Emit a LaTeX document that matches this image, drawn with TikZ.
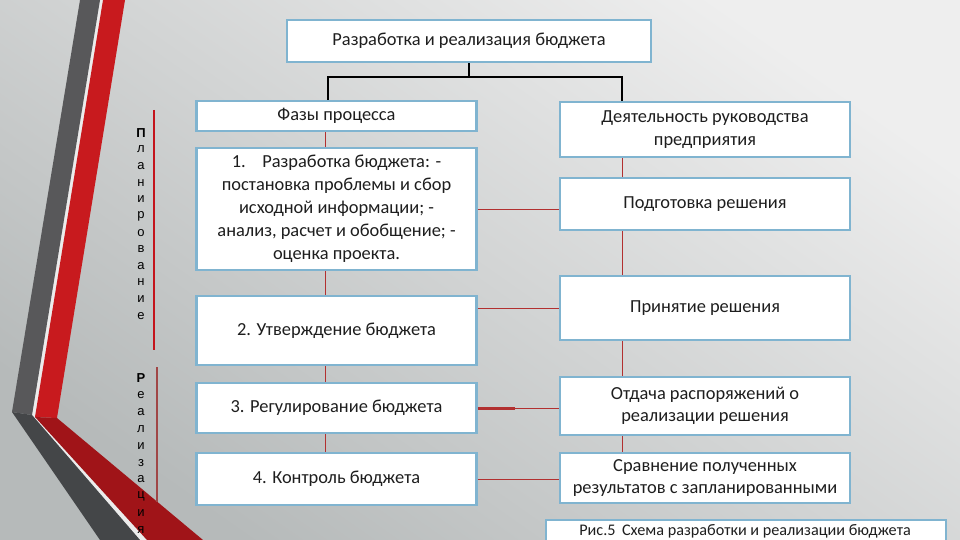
\documentclass[tikz,border=0pt]{standalone}
\usepackage{fontspec}
\setmainfont{Carlito}
\newfontfamily\sidefont{Liberation Sans}
\definecolor{bgtop}{RGB}{238,238,238}
\definecolor{bgbot}{RGB}{182,186,186}
\definecolor{greyup}{RGB}{88,88,90}
\definecolor{greydn}{RGB}{68,70,72}
\definecolor{redup}{RGB}{200,26,30}
\definecolor{reddn}{RGB}{160,20,24}
\definecolor{boxblue}{RGB}{128,180,208}
\definecolor{conred}{RGB}{178,48,48}
\definecolor{sidered}{RGB}{196,20,28}
\definecolor{sidered2}{RGB}{160,70,70}
\definecolor{txt}{RGB}{30,30,30}
\begin{document}
\begin{tikzpicture}[x=1pt,y=-1pt,
  box/.style={draw=boxblue, line width=2.2pt, fill=white, inner sep=0pt, align=center,
    text=txt, font=\fontsize{18.4}{22.5}\selectfont},
  leftbox/.style={box, minimum width=280pt},
  rightbox/.style={box, minimum width=290pt},
  blackline/.style={draw=black, line width=1.6pt},
  redline/.style={draw=conred, line width=1pt},
  sidelbl/.style={font=\sidefont\fontsize{13}{13}\selectfont, inner sep=0pt, anchor=center}
]
\useasboundingbox (0,0) rectangle (960,540);
% background
\shade[top color=bgtop, bottom color=bgbot, shading angle=-35] (0,0) rectangle (960,540);
% decorative bands
\fill[white!85!gray] (99,0) -- (104,0) -- (36,417) -- (147,540) -- (140,540) -- (32,415) -- cycle;
\fill[greyup] (80,0) -- (100,0) -- (32,415) -- (12,412) -- cycle;
\fill[greydn] (12,412) -- (32,415) -- (140,540) -- (100,540) -- cycle;
\fill[redup] (103,0) -- (125,0) -- (57,418) -- (35,417) -- cycle;
\fill[reddn] (35,417) -- (57,418) -- (203,540) -- (147,540) -- cycle;

% side lines
\coordinate (p1) at (154,110);
\coordinate (p2) at (154,350);
\coordinate (r1) at (157,367);
\coordinate (r2) at (157,502);
\draw[sidered, line width=2pt] (p1) -- (p2);
\draw[sidered2, line width=1.2pt] (r1) -- (r2);

% side letters
\foreach \ch [count=\i from 0] in {л,а,н,и,р,о,в,а,н,и,е}
  \node[sidelbl] (pl\i) at (141,{149.6+16.6*\i}) {\ch};
\node[sidelbl, font=\sidefont\bfseries\fontsize{13}{13}\selectfont] (plP) at (141,133) {П};
\foreach \ch [count=\i from 0] in {е,а,л,и,з,а,ц,и,я}
  \node[sidelbl] (rl\i) at (141,{395+16.9*\i}) {\ch};
\node[sidelbl, font=\sidefont\bfseries\fontsize{13}{13}\selectfont] (rlP) at (141,378) {Р};

% top box
\node[box, minimum width=364pt, minimum height=42pt] (top) at (469,41) {Разработка и реализация бюджета};

% left column
\node[leftbox, minimum height=30pt] (fazy) at (336.5,116) {Фазы процесса};
\node[leftbox, minimum height=122pt, font=\fontsize{18.4}{23}\selectfont] (b1) at (336.5,209)
  {1.\hspace{0.9em}Разработка бюджета: -\\постановка проблемы и сбор\\исходной информации; -\\анализ, расчет и обобщение; -\\оценка проекта.};
\node[leftbox, minimum height=69pt] (b2) at (336.5,330.5) {2. Утверждение бюджета};
\node[leftbox, minimum height=50pt] (b3) at (336.5,408) {3. Регулирование бюджета};
\node[leftbox, minimum height=52pt] (b4) at (336.5,479) {4. Контроль бюджета};

% right column
\node[rightbox, minimum height=55pt] (deyat) at (705,129.5) {Деятельность руководства\\предприятия};
\node[rightbox, minimum height=52pt] (podg) at (705,204) {Подготовка решения};
\node[rightbox, minimum height=64pt] (prin) at (705,308) {Принятие решения};
\node[rightbox, minimum height=58pt] (otd) at (705,406) {Отдача распоряжений о\\реализации решения};
\node[rightbox, minimum height=50pt] (sravn) at (705,478) {Сравнение полученных\\результатов с запланированными};

% caption
\node[box, minimum width=400pt, minimum height=30pt, anchor=north west] (cap) at (545,519) {};
\node[font=\fontsize{16.2}{16.2}\selectfont, text=txt, inner sep=0pt] (captxt) at (745,531) {Рис.5\hspace{0.4em}Схема разработки и реализации бюджета};

% black connectors
\coordinate (jl) at (328,77);
\coordinate (jr) at (622,77);
\draw[blackline] (top.south) -- (top.south |- jl);
\draw[blackline] (fazy.north -| jl) -- (jl) -- (jr) -- (deyat.north -| jr);

% red verticals
\coordinate (lx) at (325,0);
\coordinate (rx) at (622,0);
\draw[redline] (fazy.south -| lx) -- (b1.north -| lx);
\draw[redline] (b1.south -| lx) -- (b2.north -| lx);
\draw[redline] (b2.south -| lx) -- (b3.north -| lx);
\draw[redline] (b3.south -| lx) -- (b4.north -| lx);
\draw[redline] (deyat.south -| rx) -- (podg.north -| rx);
\draw[redline] (podg.south -| rx) -- (prin.north -| rx);
\draw[redline] (prin.south -| rx) -- (otd.north -| rx);
\draw[redline] (otd.south -| rx) -- (sravn.north -| rx);

% red horizontals
\draw[redline] (b1.east) -- (podg.west |- b1.east);
\draw[redline] (b2.east |- prin.west) -- (prin.west);
\coordinate (thk) at (515,0);
\draw[redline] (b3.east) -- (otd.west |- b3.east);
\draw[conred, line width=3pt] (b3.east) -- (thk |- b3.east);
\draw[redline] (b4.east) -- (sravn.west |- b4.east);
\end{tikzpicture}
\end{document}
